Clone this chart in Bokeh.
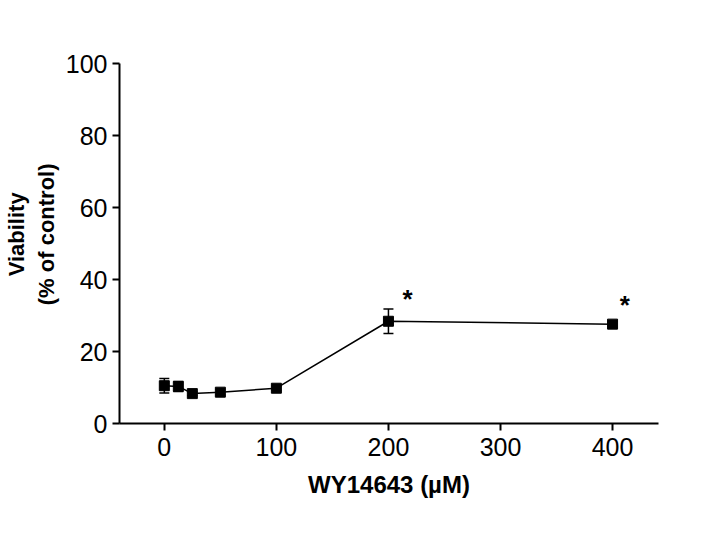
from bokeh.plotting import figure
from bokeh.models import ColumnDataSource, Whisker, TeeHead, Range1d, FixedTicker
from bokeh.core.properties import value
from bokeh.embed import file_html
from bokeh.resources import INLINE

conc = [0, 12.5, 25, 50, 100, 200, 400]
viability = [10.5, 10.3, 8.3, 8.7, 9.8, 28.4, 27.6]
err = [2.0, 1.4, 0.5, 0.8, 0.6, 3.4, 0.8]
x_ticks = [0, 100, 200, 300, 400]
y_ticks = [0, 20, 40, 60, 80, 100]
star_x = [217, 411]
star_y = [34.5, 32.8]
stars = ["*", "*"]

FONT = "Liberation Sans"

src = ColumnDataSource(dict(x=conc, y=viability,
                            lo=[v - e for v, e in zip(viability, err)],
                            hi=[v + e for v, e in zip(viability, err)]))

p = figure(frame_width=539, frame_height=360, output_backend="svg", toolbar_location=None,
           x_range=Range1d(-40, 441), y_range=Range1d(0, 100),
           min_border_left=110, min_border_right=54, min_border_top=63, min_border_bottom=95)
p.outline_line_color = None
p.grid.visible = False
p.background_fill_color = "white"
p.border_fill_color = "white"

for ax in (p.xaxis[0], p.yaxis[0]):
    ax.axis_line_width = 2
    ax.axis_line_color = "black"
    ax.major_tick_line_width = 2
    ax.major_tick_line_color = "black"
    ax.major_tick_out = 7
    ax.major_tick_in = 0
    ax.minor_tick_line_color = None
    ax.major_label_text_font = FONT
    ax.major_label_text_font_size = "25px"
    ax.major_label_text_color = "black"
    ax.axis_label_text_font = FONT
    ax.axis_label_text_font_style = "bold"
    ax.axis_label_text_color = "black"

p.xaxis.ticker = FixedTicker(ticks=x_ticks)
p.yaxis.ticker = FixedTicker(ticks=y_ticks)
p.xaxis.major_label_standoff = 7
p.yaxis.major_label_standoff = 5
p.xaxis.axis_label = "WY14643 (µM)"
p.xaxis.axis_label_standoff = 12
p.xaxis.axis_label_text_font_size = "24px"
pad = "\u00a0" * 3
p.yaxis.axis_label = pad + "Viability\n" + pad + "(% of control)"
p.yaxis.axis_label_standoff = 4
p.yaxis.axis_label_text_font_size = "22px"

p.line("x", "y", source=src, line_color="black", line_width=1.5)
w = Whisker(source=src, base="x", lower="lo", upper="hi", line_color="black", line_width=1.5,
            upper_head=TeeHead(size=10, line_color="black", line_width=1.5),
            lower_head=TeeHead(size=10, line_color="black", line_width=1.5))
p.add_layout(w)
p.scatter("x", "y", source=src, marker="square", size=10, fill_color="black", line_color="black")

p.text(x=star_x, y=star_y, text=stars, text_font=value(FONT), text_font_size="26px",
       text_font_style="bold", text_align="center", text_baseline="middle", text_color="black")

open("out.html", "w").write(file_html(p, INLINE))
